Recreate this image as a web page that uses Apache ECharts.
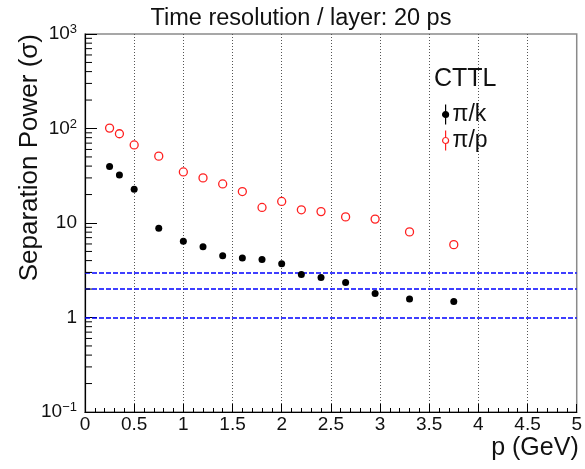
<!DOCTYPE html>
<html>
<head>
<meta charset="utf-8">
<script src="https://cdn.jsdelivr.net/npm/echarts@6/dist/echarts.min.js"></script>
<style>
html,body{margin:0;padding:0;background:#fff;}
#chart{width:585px;height:469px;}
</style>
</head>
<body>
<div id="chart"></div>
<script>
// ---- data ----
const momentum = [0.25, 0.35, 0.5, 0.75, 1.0, 1.2, 1.4, 1.6, 1.8, 2.0, 2.2, 2.4, 2.65, 2.95, 3.3, 3.75];
const piK = [39.6, 32.3, 22.8, 8.8, 6.4, 5.6, 4.5, 4.25, 4.1, 3.7, 2.85, 2.65, 2.35, 1.8, 1.57, 1.48];
const piP = [101, 88, 67, 51, 34.7, 30.0, 25.9, 21.5, 14.6, 16.9, 13.8, 13.2, 11.6, 11.0, 8.05, 5.9];
const thresholds = [1, 2, 3];
const seriesNames = ['\u03c0/k', '\u03c0/p'];
const legendHeader = 'CTTL';
const titleText = 'Time resolution / layer: 20 ps';
const xTitle = 'p (GeV)';
const yTitle = 'Separation Power (\u03c3)';
const logMantissas = [2, 3, 4, 5, 6, 7, 8, 9];
const logDecades = [0.1, 1, 10, 100];

const FONT = "'Liberation Sans', Arial, Helvetica, sans-serif";
const minorTickValues = [];
logDecades.forEach(d => logMantissas.forEach(m => minorTickValues.push([0, +(m * d).toPrecision(3)])));

const chart = echarts.init(document.getElementById('chart'), null, {renderer: 'canvas'});

function yLabel(v) {
  const e = Math.round(Math.log10(v));
  if (e === 0) return '1';
  if (e === 1) return '10';
  return '10{sup|' + (e < 0 ? '\u2212' + (-e) : e) + '}';
}

const option = {
  animation: false,
  backgroundColor: '#fff',
  textStyle: {fontFamily: FONT},
  title: [
    {text: titleText, left: 296, top: 2, textAlign: 'center',
     textStyle: {fontFamily: FONT, fontSize: 23.5, fontWeight: 'normal', color: '#111'}},
    {text: legendHeader, left: 429, top: 62,
     textStyle: {fontFamily: FONT, fontSize: 25, fontWeight: 'normal', color: '#111'}}
  ],
  legend: {
    orient: 'vertical', left: 437, top: 98, itemGap: 3,
    itemWidth: 6, itemHeight: 20,
    textStyle: {fontFamily: FONT, fontSize: 23, color: '#111', lineHeight: 20, padding: [0, 0, 0, -1]},
    data: [
      {name: seriesNames[0], icon: 'path://M5,0 L5,7 M5,13 L5,20 M2,10 A3,3 0 1,1 8,10 A3,3 0 1,1 2,10 Z',
       itemStyle: {color: '#000', borderColor: '#000', borderWidth: 1.2, opacity: 1}},
      {name: seriesNames[1], icon: 'path://M5,0 L5,7 M5,13 L5,20 M2,10 A3,3 0 1,1 8,10 A3,3 0 1,1 2,10 Z',
       itemStyle: {color: '#fff', borderColor: '#ff2020', borderWidth: 1.2, opacity: 1}}
    ]
  },
  grid: {left: 85, right: 7, top: 34, bottom: 57, show: true, borderColor: '#8a8a8a', borderWidth: 1.5, backgroundColor: 'transparent'},
  xAxis: {
    type: 'value', min: 0, max: 5, interval: 0.5,
    name: xTitle, nameLocation: 'end', nameGap: 2,
    nameTextStyle: {fontFamily: FONT, fontSize: 25, color: '#111', align: 'right', verticalAlign: 'top', padding: [24, 0, 0, 0]},
    axisLine: {show: true, onZero: false, lineStyle: {color: '#000', width: 1.2}},
    axisTick: {show: true, inside: true, length: 8, lineStyle: {color: '#000'}},
    minorTick: {show: true, splitNumber: 5, length: 4, lineStyle: {color: '#000'}},
    axisLabel: {fontFamily: FONT, fontSize: 19, color: '#111', margin: 3},
    splitLine: {show: true, showMinLine: false, showMaxLine: false, lineStyle: {color: '#555', type: [1, 2], width: 1}}
  },
  yAxis: {
    type: 'log', logBase: 10, min: 0.1, max: 1000,
    name: yTitle, nameLocation: 'end', nameGap: 0, nameRotate: 90,
    nameTextStyle: {fontFamily: FONT, fontSize: 26, color: '#111', align: 'right', verticalAlign: 'bottom', padding: [0, 0, 42, 0]},
    axisLine: {show: true, lineStyle: {color: '#000', width: 1.2}},
    axisTick: {show: true, inside: true, length: 12, lineStyle: {color: '#000'}},
    axisLabel: {
      fontFamily: FONT, fontSize: 19, color: '#111', margin: 8,
      formatter: yLabel,
      rich: {sup: {fontFamily: FONT, fontSize: 13, color: '#111', padding: [0, 0, 9, 0]}}
    },
    splitLine: {show: false}
  },
  series: [
    {
      name: seriesNames[0], type: 'scatter', symbol: 'circle', symbolSize: 7,
      itemStyle: {color: '#000', opacity: 1},
      data: momentum.map((x, i) => [x, piK[i]]),
      markLine: {
        silent: true, symbol: 'none', label: {show: false},
        lineStyle: {color: '#0000ff', type: [5, 2], width: 1.6},
        data: thresholds.map(v => ({yAxis: v}))
      },
      z: 5
    },
    {
      name: seriesNames[1], type: 'scatter', symbol: 'circle', symbolSize: 8,
      itemStyle: {color: '#fff', borderColor: '#ff2020', borderWidth: 1.3, opacity: 1},
      data: momentum.map((x, i) => [x, piP[i]]),
      z: 5
    },
    {
      name: 'yMinorTicks', type: 'custom', silent: true, z: 6,
      data: minorTickValues,
      renderItem: function (params, api) {
        const p = api.coord([api.value(0), api.value(1)]);
        return {type: 'line', shape: {x1: p[0], y1: p[1], x2: p[0] + 7, y2: p[1]}, style: {stroke: '#000', lineWidth: 1}};
      }
    }
  ]
};
chart.setOption(option);
</script>
</body>
</html>
